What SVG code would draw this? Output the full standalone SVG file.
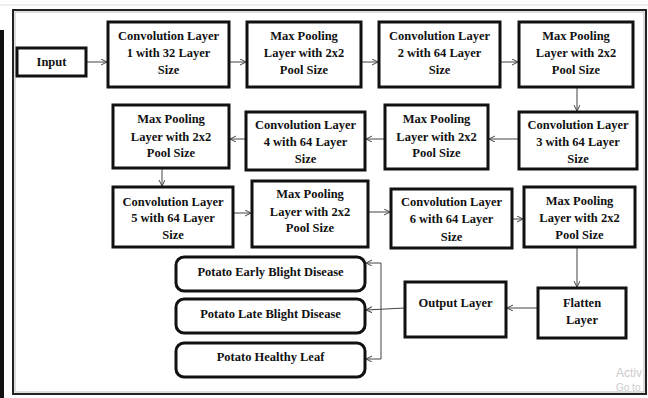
<svg xmlns="http://www.w3.org/2000/svg" width="648" height="398" viewBox="0 0 648 398">
<style>
.box{fill:#fff;stroke:#111;stroke-width:3}
.t{font-family:"Liberation Serif","Times New Roman",serif;font-weight:bold;font-size:12.5px;fill:#111;text-anchor:middle}
.c{fill:none;stroke:#444;stroke-width:1}
</style>
<defs>
<marker id="ah" markerWidth="8" markerHeight="8" refX="6" refY="3" orient="auto" markerUnits="userSpaceOnUse">
<path d="M0,0 L6,3 L0,6" fill="none" stroke="#444" stroke-width="1"/>
</marker>
</defs>
<rect x="0" y="0" width="648" height="398" fill="#fff"/>
<line x1="0" y1="5" x2="648" y2="5" stroke="#ddd" stroke-width="1"/>
<rect x="0" y="30" width="4" height="368" fill="#111"/>
<rect x="13" y="10" width="633" height="384" fill="#fff" stroke="#222" stroke-width="2"/>
<rect x="15" y="12" width="629" height="380" fill="none" stroke="#bbb" stroke-width="1"/>

<g id="connectors">
<line class="c" x1="86" y1="62" x2="107" y2="62" marker-end="url(#ah)"/>
<line class="c" x1="229" y1="62" x2="246" y2="62" marker-end="url(#ah)"/>
<line class="c" x1="361" y1="62" x2="378" y2="62" marker-end="url(#ah)"/>
<line class="c" x1="500" y1="62" x2="518" y2="62" marker-end="url(#ah)"/>
<line class="c" x1="577" y1="87" x2="577" y2="111" marker-end="url(#ah)"/>
<line class="c" x1="519" y1="139" x2="489" y2="139" marker-end="url(#ah)"/>
<line class="c" x1="385" y1="139" x2="366" y2="139" marker-end="url(#ah)"/>
<line class="c" x1="246" y1="139" x2="230" y2="139" marker-end="url(#ah)"/>
<line class="c" x1="162" y1="168" x2="162" y2="186" marker-end="url(#ah)"/>
<line class="c" x1="233" y1="213" x2="251" y2="213" marker-end="url(#ah)"/>
<line class="c" x1="368" y1="212" x2="390" y2="212" marker-end="url(#ah)"/>
<line class="c" x1="512" y1="219" x2="523" y2="219" marker-end="url(#ah)"/>
<line class="c" x1="577" y1="247" x2="577" y2="287" marker-end="url(#ah)"/>
<line class="c" x1="538" y1="308" x2="507" y2="308" marker-end="url(#ah)"/>
<line class="c" x1="405" y1="308" x2="366" y2="310" marker-end="url(#ah)"/>
<polyline class="c" points="381,263 381,359"/>
<line class="c" x1="381" y1="263" x2="366" y2="263" marker-end="url(#ah)"/>
<line class="c" x1="381" y1="359" x2="366" y2="359" marker-end="url(#ah)"/>
</g>

<g id="input"><rect class="box" x="17" y="48" width="69" height="28"/><text class="t" x="51.5" y="66">Input</text></g>

<g id="conv1"><rect class="box" x="108" y="22" width="121" height="65"/>
<text class="t" x="168.5" y="40">Convolution Layer</text><text class="t" x="168.5" y="57">1 with 32 Layer</text><text class="t" x="168.5" y="74">Size</text></g>
<g id="pool1"><rect class="box" x="247" y="22" width="114" height="65"/>
<text class="t" x="304" y="40">Max Pooling</text><text class="t" x="304" y="57">Layer with 2x2</text><text class="t" x="304" y="74">Pool Size</text></g>
<g id="conv2"><rect class="box" x="379" y="22" width="121" height="65"/>
<text class="t" x="439.5" y="40">Convolution Layer</text><text class="t" x="439.5" y="57">2 with 64 Layer</text><text class="t" x="439.5" y="74">Size</text></g>
<g id="pool2"><rect class="box" x="519" y="22" width="114" height="65"/>
<text class="t" x="576" y="40">Max Pooling</text><text class="t" x="576" y="57">Layer with 2x2</text><text class="t" x="576" y="74">Pool Size</text></g>

<g id="conv3"><rect class="box" x="519" y="112" width="118" height="57"/>
<text class="t" x="578" y="129">Convolution Layer</text><text class="t" x="578" y="146">3 with 64 Layer</text><text class="t" x="578" y="163">Size</text></g>
<g id="pool3"><rect class="box" x="385" y="105" width="103" height="64"/>
<text class="t" x="436.5" y="123">Max Pooling</text><text class="t" x="436.5" y="141">Layer with 2x2</text><text class="t" x="436.5" y="157">Pool Size</text></g>
<g id="conv4"><rect class="box" x="246" y="112" width="119" height="58"/>
<text class="t" x="305.5" y="129">Convolution Layer</text><text class="t" x="305.5" y="146">4 with 64 Layer</text><text class="t" x="305.5" y="163">Size</text></g>
<g id="pool4"><rect class="box" x="113" y="105" width="116" height="63"/>
<text class="t" x="171" y="123">Max Pooling</text><text class="t" x="171" y="141">Layer with 2x2</text><text class="t" x="171" y="157">Pool Size</text></g>

<g id="conv5"><rect class="box" x="113" y="187" width="120" height="60"/>
<text class="t" x="173" y="206">Convolution Layer</text><text class="t" x="173" y="222">5 with 64 Layer</text><text class="t" x="173" y="239">Size</text></g>
<g id="pool5"><rect class="box" x="252" y="181" width="116" height="66"/>
<text class="t" x="310" y="198">Max Pooling</text><text class="t" x="310" y="216">Layer with 2x2</text><text class="t" x="310" y="232">Pool Size</text></g>
<g id="conv6"><rect class="box" x="391" y="189" width="121" height="59"/>
<text class="t" x="451.5" y="206">Convolution Layer</text><text class="t" x="451.5" y="223">6 with 64 Layer</text><text class="t" x="451.5" y="241">Size</text></g>
<g id="pool6"><rect class="box" x="524" y="187" width="111" height="60"/>
<text class="t" x="579.5" y="205">Max Pooling</text><text class="t" x="579.5" y="222">Layer with 2x2</text><text class="t" x="579.5" y="239">Pool Size</text></g>

<g id="flatten"><rect class="box" x="538" y="288" width="88" height="50"/>
<text class="t" x="582" y="307">Flatten</text><text class="t" x="582" y="324">Layer</text></g>
<g id="output"><rect class="box" x="405" y="282" width="101" height="55"/>
<text class="t" x="455.5" y="307">Output Layer</text></g>

<g id="early"><rect class="box" x="176" y="257" width="189" height="34" rx="8"/>
<text class="t" x="270.5" y="276">Potato Early Blight Disease</text></g>
<g id="late"><rect class="box" x="176" y="299" width="189" height="34" rx="8"/>
<text class="t" x="270.5" y="318">Potato Late Blight Disease</text></g>
<g id="healthy"><rect class="box" x="176" y="343" width="189" height="34" rx="8"/>
<text class="t" x="270.5" y="361">Potato Healthy Leaf</text></g>

<text x="616" y="377" font-family="Liberation Sans, sans-serif" font-size="12" fill="#ccc">Activ</text>
<text x="616" y="391" font-family="Liberation Sans, sans-serif" font-size="10" fill="#ccc">Go to</text>
</svg>
